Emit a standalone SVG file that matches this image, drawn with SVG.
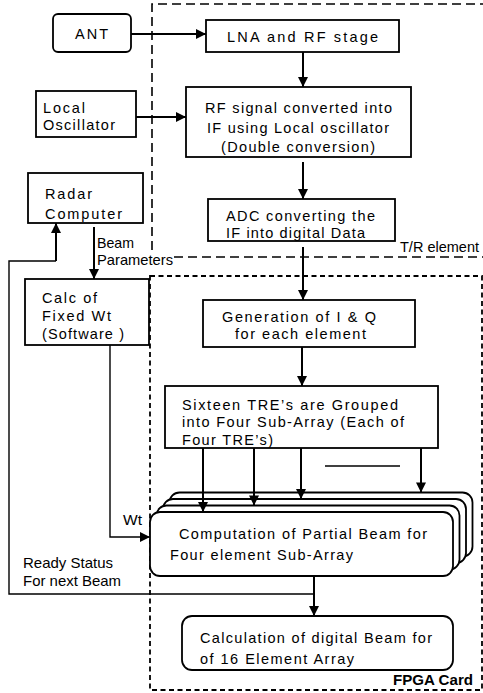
<svg xmlns="http://www.w3.org/2000/svg" width="483" height="693" viewBox="0 0 483 693">
<style>
.box{fill:#fff;stroke:#000;stroke-width:1.8}
.t{font-family:"Liberation Sans",Arial,sans-serif;font-size:14.5px;fill:#000}
.s{font-family:"Liberation Sans",Arial,sans-serif;font-size:14.5px;fill:#000}
.b{font-family:"Liberation Sans",Arial,sans-serif;font-size:14.5px;font-weight:bold;fill:#000}
.c{fill:none;stroke:#000;stroke-width:2}
.thin{fill:none;stroke:#000;stroke-width:1.4}
.d1{fill:none;stroke:#000;stroke-width:1.6;stroke-dasharray:9 5}
.d2{fill:none;stroke:#000;stroke-width:1.8;stroke-dasharray:5 3.5}
</style>
<defs>
<marker id="ah" viewBox="0 0 10 10" refX="10" refY="5" markerWidth="11" markerHeight="10" markerUnits="userSpaceOnUse" orient="auto">
<path d="M0,0 L10,5 L0,10 z" fill="#000"/>
</marker>
</defs>
<rect width="483" height="693" fill="#fff"/>
<g id="groups">
<path class="d1" d="M152,250 V4 H483"/>
<path class="d1" d="M174,257 H483"/>
<text class="s" x="400" y="252" textLength="79" lengthAdjust="spacingAndGlyphs">T/R element</text>
<path class="d2" d="M150,276 H482 V690 H150 Z"/>
<text class="b" x="393" y="685" textLength="80" lengthAdjust="spacingAndGlyphs">FPGA Card</text>
</g>
<g id="ant">
<rect class="box" x="53" y="14" width="78" height="38" rx="5"/>
<text class="t" x="75" y="39" textLength="33">ANT</text>
</g>
<g id="lna">
<rect class="box" x="206" y="20" width="193" height="32"/>
<text class="t" x="227" y="42" textLength="151">LNA  and  RF stage</text>
</g>
<g id="lo">
<rect class="box" x="36" y="91" width="100" height="46"/>
<text class="t" x="43" y="113" textLength="42">Local</text>
<text class="t" x="43" y="130" textLength="72">Oscillator</text>
</g>
<g id="rf">
<rect class="box" x="186" y="87" width="225" height="70"/>
<text class="t" x="205" y="113" textLength="187">RF signal converted into</text>
<text class="t" x="207" y="133" textLength="182">IF using Local oscillator</text>
<text class="t" x="221" y="152" textLength="154">(Double conversion)</text>
</g>
<g id="radar">
<rect class="box" x="28" y="173" width="115" height="50"/>
<text class="t" x="45" y="199" textLength="47">Radar</text>
<text class="t" x="45" y="219" textLength="77">Computer</text>
</g>
<g id="adc">
<rect class="box" x="208" y="199" width="187" height="42"/>
<text class="t" x="226" y="221" textLength="149">ADC converting the</text>
<text class="t" x="226" y="238" textLength="139">IF into digital Data</text>
</g>
<g id="calc">
<rect class="box" x="25" y="279" width="124" height="66"/>
<text class="t" x="42" y="303" textLength="55">Calc of</text>
<text class="t" x="42" y="321" textLength="69">Fixed Wt</text>
<text class="t" x="42" y="339" textLength="82">(Software )</text>
</g>
<g id="iq">
<rect class="box" x="203" y="300" width="212" height="47"/>
<text class="t" x="222" y="322" textLength="154">Generation of  I &amp; Q</text>
<text class="t" x="235" y="339" textLength="131">for each element</text>
</g>
<g id="sixteen">
<rect class="box" x="165" y="386" width="273" height="62"/>
<text class="t" x="182" y="410" textLength="216">Sixteen TRE’s  are Grouped</text>
<text class="t" x="182" y="427" textLength="222">into Four Sub-Array (Each of</text>
<text class="t" x="182" y="445" textLength="91">Four TRE’s)</text>
</g>
<g id="partial">
<rect class="box" x="169.5" y="492.5" width="303" height="64" rx="10"/>
<rect class="box" x="163" y="499" width="303" height="64" rx="10"/>
<rect class="box" x="156.5" y="505.5" width="303" height="64" rx="10"/>
<rect class="box" x="150" y="512" width="303" height="64" rx="10"/>
<text class="t" x="179" y="539" textLength="248">Computation of Partial Beam for</text>
<text class="t" x="170" y="560" textLength="183">Four element Sub-Array</text>
</g>
<g id="digital">
<rect class="box" x="182" y="616" width="271" height="54" rx="10"/>
<text class="t" x="200" y="643" textLength="232">Calculation of digital Beam for</text>
<text class="t" x="200" y="664" textLength="154">of 16 Element Array</text>
</g>
<g id="connectors">
<path class="c" d="M131,34 H206" marker-end="url(#ah)"/>
<path class="c" d="M303,52 V87" marker-end="url(#ah)"/>
<path class="c" d="M136,117 H186" marker-end="url(#ah)"/>
<path class="c" d="M303,162 V199" marker-end="url(#ah)"/>
<path class="c" d="M303,247 V300" marker-end="url(#ah)"/>
<path class="c" d="M302,347 V386" marker-end="url(#ah)"/>
<path class="c" d="M94,227 V279" marker-end="url(#ah)"/>
<text class="s" x="97" y="248" textLength="37" lengthAdjust="spacingAndGlyphs">Beam</text>
<text class="s" x="97" y="265" textLength="76" lengthAdjust="spacingAndGlyphs">Parameters</text>
<path class="c" d="M203,448 V512" marker-end="url(#ah)"/>
<path class="c" d="M254,448 V505.5" marker-end="url(#ah)"/>
<path class="c" d="M301,448 V499" marker-end="url(#ah)"/>
<path class="c" d="M421,448 V492.5" marker-end="url(#ah)"/>
<path class="thin" d="M325,466 H400"/>
<path class="thin" d="M110,345 V537 H150" marker-end="url(#ah)"/>
<text class="s" x="123" y="525" textLength="19" lengthAdjust="spacingAndGlyphs">Wt</text>
<path class="c" d="M314,577 V616" marker-end="url(#ah)"/>
<path class="thin" d="M314,594 H9 V261 H56"/>
<path class="c" d="M56,261 V223" marker-end="url(#ah)"/>
<text class="s" x="23" y="568" textLength="90" lengthAdjust="spacingAndGlyphs">Ready Status</text>
<text class="s" x="23" y="586" textLength="98" lengthAdjust="spacingAndGlyphs">For next Beam</text>
</g>
</svg>
